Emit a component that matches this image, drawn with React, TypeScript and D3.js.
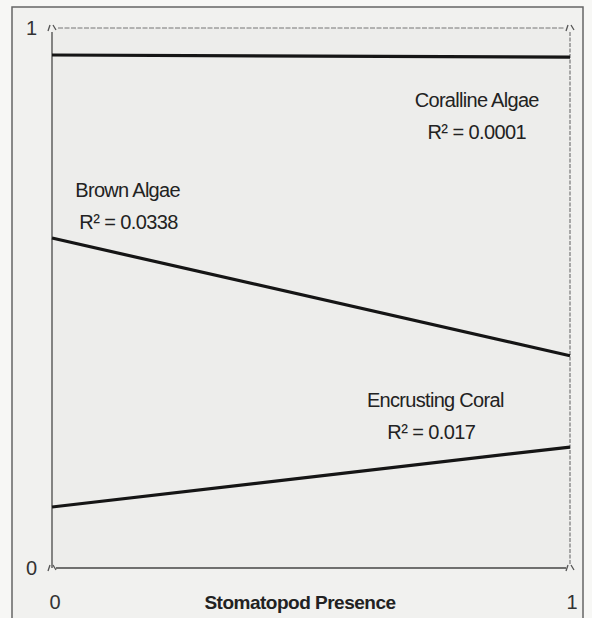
import { useEffect, useRef } from 'react';
import * as d3 from 'd3';

// regression lines: endpoints at x=0 and x=1
const seriesNames = ['Coralline Algae', 'Brown Algae', 'Encrusting Coral'];
const seriesStart = [0.95, 0.611, 0.113];
const seriesEnd = [0.946, 0.393, 0.224];
const rSquared = ['0.0001', '0.0338', '0.017'];
// label anchor in data units
const labelX = [0.82, 0.045, 0.74];
const labelY = [0.854, 0.687, 0.298];
const xTicks = [0, 1];
const yTicks = [0, 1];

export default function App() {
  const svgRef = useRef<SVGSVGElement>(null);
  const width = 592;
  const height = 618;

  useEffect(() => {
    if (!svgRef.current) return;
    const svg = d3.select(svgRef.current);
    svg.selectAll('*').remove();

    const margin = { top: 28, right: 22, bottom: 50, left: 52 };
    const x = d3.scaleLinear().domain([0, 1]).range([margin.left, width - margin.right]);
    const y = d3.scaleLinear().domain([0, 1]).range([height - margin.bottom, margin.top]);

    // page / frame
    svg.append('rect').attr('width', width).attr('height', height).attr('fill', '#f7f7f5');
    svg.append('rect')
      .attr('x', 12).attr('y', 7).attr('width', 571).attr('height', 640)
      .attr('fill', '#f1f1ef').attr('stroke', '#666').attr('stroke-width', 1.5);
    svg.append('rect')
      .attr('x', x(0)).attr('y', y(1)).attr('width', x(1) - x(0)).attr('height', y(0) - y(1))
      .attr('fill', '#ededeb');

    const font = '"Liberation Sans", Arial, sans-serif';

    // axes frame
    svg.append('line').attr('x1', x(0)).attr('x2', x(0)).attr('y1', y(1) + 4).attr('y2', y(0))
      .attr('stroke', '#555').attr('stroke-width', 1.4);
    svg.append('line').attr('x1', x(0) + 4).attr('x2', x(1) - 4).attr('y1', y(0)).attr('y2', y(0))
      .attr('stroke', '#444').attr('stroke-width', 1.6);
    svg.append('line').attr('x1', x(0) + 6).attr('x2', x(1) - 6).attr('y1', y(1)).attr('y2', y(1))
      .attr('stroke', '#777').attr('stroke-width', 1.2).attr('stroke-dasharray', '5,1.5');
    svg.append('line').attr('x1', x(1)).attr('x2', x(1)).attr('y1', y(1) + 4).attr('y2', y(0) - 4)
      .attr('stroke', '#777').attr('stroke-width', 1.2).attr('stroke-dasharray', '4,1.5');

    // small corner marks
    const corners: [number, number][] = [[0, 1], [1, 1], [0, 0], [1, 0]];
    svg.selectAll('.corner').data(corners).join('path')
      .attr('class', 'corner')
      .attr('d', d => {
        const cx = x(d[0]), cy = y(d[1]);
        return `M${cx - 4},${cy + 3} L${cx - 2},${cy - 3} M${cx + 1},${cy - 3} L${cx + 4},${cy + 2}`;
      })
      .attr('stroke', '#555').attr('stroke-width', 1.3).attr('fill', 'none');

    // tick labels
    svg.selectAll('.ytick').data(yTicks).join('text')
      .attr('class', 'ytick')
      .attr('x', x(0) - 15).attr('y', d => y(d) + 7)
      .attr('text-anchor', 'end')
      .attr('font-family', font).attr('font-size', 20).attr('fill', '#333')
      .text(d => d);
    svg.selectAll('.xtick').data(xTicks).join('text')
      .attr('class', 'xtick')
      .attr('x', d => x(d) + (d === 0 ? 3 : 2)).attr('y', y(0) + 41)
      .attr('text-anchor', 'middle')
      .attr('font-family', font).attr('font-size', 20).attr('fill', '#333')
      .text(d => d);
    svg.append('text')
      .attr('x', 300).attr('y', y(0) + 41)
      .attr('text-anchor', 'middle')
      .attr('font-family', font).attr('font-size', 19).attr('font-weight', 'bold')
      .attr('letter-spacing', -0.5).attr('fill', '#222')
      .text('Stomatopod Presence');

    // regression lines
    const line = d3.line<[number, number]>().x(d => x(d[0])).y(d => y(d[1]));
    svg.selectAll('.reg').data(seriesNames).join('path')
      .attr('class', 'reg')
      .attr('d', (_, i) => line([[0, seriesStart[i]], [1, seriesEnd[i]]]))
      .attr('stroke', '#151515').attr('stroke-width', 3.2).attr('fill', 'none');

    // labels
    const anchors = ['middle', 'start', 'middle'];
    const g = svg.selectAll('.lbl').data(seriesNames).join('g').attr('class', 'lbl');
    g.append('text')
      .attr('x', (_, i) => x(labelX[i])).attr('y', (_, i) => y(labelY[i]))
      .attr('text-anchor', (_, i) => anchors[i])
      .attr('font-family', font).attr('font-size', 20).attr('letter-spacing', -0.7).attr('fill', '#222')
      .text(d => d);
    g.append('text')
      .attr('x', (_, i) => x(labelX[i]) + (i === 1 ? 4 : i === 2 ? -4 : 0))
      .attr('y', (_, i) => y(labelY[i]) + 32)
      .attr('text-anchor', (_, i) => anchors[i])
      .attr('font-family', font).attr('font-size', 20).attr('letter-spacing', -0.6).attr('fill', '#222')
      .text((_, i) => `R² = ${rSquared[i]}`);
  }, []);

  return (
    <svg ref={svgRef} width={width} height={height}
      style={{ position: 'absolute', left: 0, top: 0, display: 'block' }} />
  );
}
